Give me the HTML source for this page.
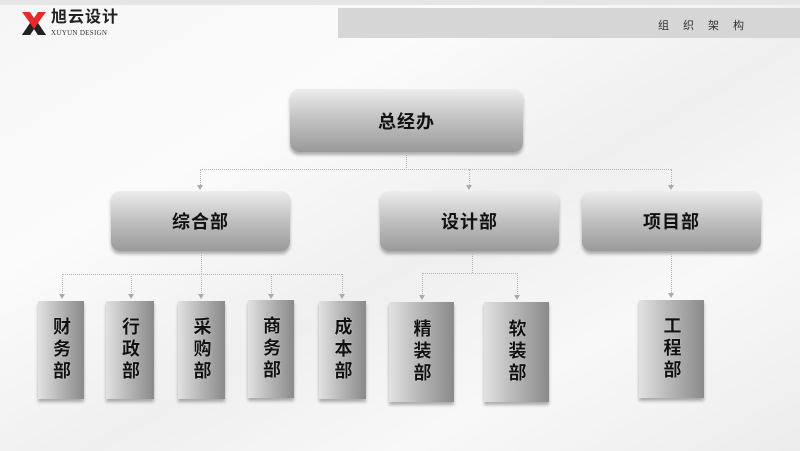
<!DOCTYPE html>
<html><head><meta charset="utf-8"><style>
*{margin:0;padding:0;box-sizing:border-box}
body{width:800px;height:451px;overflow:hidden;position:relative;font-family:"Liberation Sans","Noto Sans CJK SC",sans-serif;
background:linear-gradient(150deg,#f6f6f6 0%,#fbfbfb 30%,#efefef 55%,#f8f8f8 75%,#ececec 100%);}
.b{position:absolute;border-radius:9px;background:linear-gradient(#ededed 0%,#c4c4c4 45%,#9a9a9a 100%);box-shadow:0 3px 3px rgba(0,0,0,.3);display:flex;align-items:center;justify-content:center;font-weight:bold;font-size:18px;color:#111;letter-spacing:1px}
.v{position:absolute;background:linear-gradient(90deg,#e2e2e2 0%,#bdbdbd 40%,#8a8a8a 100%);box-shadow:0 3px 3px rgba(0,0,0,.3);display:flex;align-items:center;justify-content:center;font-weight:bold;font-size:18px;color:#111;writing-mode:vertical-rl;letter-spacing:4px;text-shadow:0 0 1px #fff}
.l{position:absolute;border-color:#b5b5b5;border-style:dotted;border-width:0}
.h{border-top-width:1px;height:0}
.d{border-left-width:1px;width:0}
.a{position:absolute;width:0;height:0;border-left:3px solid transparent;border-right:3px solid transparent;border-top:5px solid #aaa}
</style></head><body>
<div style="position:absolute;left:0;top:0;width:800px;height:5px;background:#e6e6e6"></div>
<svg style="position:absolute;left:22px;top:12px" width="24" height="23"><polygon points="0,0 8,0 12,6 16,0 24,0 16,11 24,23 16,23 12,17 8,23 0,23 8,11" fill="#e52b2b"/><polygon points="12,17 16,23 24,23 16,11" fill="#222"/><polygon points="8,11 0,23 8,23 12,17" fill="#222"/></svg>
<div style="position:absolute;left:51px;top:9px;font-size:16px;line-height:18px;font-weight:bold;color:#222;letter-spacing:1px">旭云设计</div>
<div style="position:absolute;left:51px;top:29px;font-size:7px;line-height:8px;font-family:'Liberation Serif',serif;color:#333;letter-spacing:.3px">XUYUN DESIGN</div>
<div style="position:absolute;left:338px;top:8px;width:462px;height:30px;background:#d6d6d6"></div>
<div style="position:absolute;left:658px;top:17px;font-size:11px;color:#333;letter-spacing:14px">组织架构</div>

<div class="b" style="left:290px;top:89px;width:233px;height:63px">总经办</div>
<div class="b" style="left:111px;top:191px;width:179px;height:60px">综合部</div>
<div class="b" style="left:380px;top:191px;width:179px;height:60px">设计部</div>
<div class="b" style="left:582px;top:191px;width:179px;height:60px">项目部</div>

<div class="l d" style="left:406px;top:153px;height:17px"></div>
<div class="l h" style="left:200px;top:169px;width:471px"></div>
<div class="l d" style="left:200px;top:169px;height:18px"></div>
<div class="l d" style="left:469px;top:169px;height:18px"></div>
<div class="l d" style="left:671px;top:169px;height:18px"></div>
<div class="a" style="left:197px;top:185px"></div>
<div class="a" style="left:466px;top:185px"></div>
<div class="a" style="left:668px;top:185px"></div>

<div class="l d" style="left:201px;top:252px;height:22px"></div>
<div class="l h" style="left:62px;top:274px;width:280px"></div>
<div class="l d" style="left:62px;top:274px;height:21px"></div>
<div class="l d" style="left:131px;top:274px;height:21px"></div>
<div class="l d" style="left:201px;top:274px;height:21px"></div>
<div class="l d" style="left:271px;top:274px;height:21px"></div>
<div class="l d" style="left:342px;top:274px;height:21px"></div>
<div class="a" style="left:59px;top:294px"></div><div class="a" style="left:128px;top:294px"></div><div class="a" style="left:198px;top:294px"></div><div class="a" style="left:268px;top:294px"></div><div class="a" style="left:339px;top:294px"></div>

<div class="l d" style="left:472px;top:252px;height:21px"></div>
<div class="l h" style="left:422px;top:273px;width:96px"></div>
<div class="l d" style="left:422px;top:273px;height:23px"></div>
<div class="l d" style="left:517px;top:273px;height:23px"></div>
<div class="a" style="left:419px;top:295px"></div><div class="a" style="left:514px;top:295px"></div>
<div class="l d" style="left:671px;top:252px;height:41px"></div>
<div class="a" style="left:668px;top:293px"></div>

<div class="v" style="left:38px;top:301px;width:46px;height:98px">财务部</div>
<div class="v" style="left:106px;top:301px;width:48px;height:98px">行政部</div>
<div class="v" style="left:178px;top:301px;width:47px;height:98px">采购部</div>
<div class="v" style="left:248px;top:300px;width:46px;height:98px">商务部</div>
<div class="v" style="left:319px;top:301px;width:47px;height:98px">成本部</div>
<div class="v" style="left:389px;top:302px;width:65px;height:100px">精装部</div>
<div class="v" style="left:484px;top:302px;width:65px;height:100px">软装部</div>
<div class="v" style="left:639px;top:300px;width:65px;height:98px">工程部</div>
</body></html>
